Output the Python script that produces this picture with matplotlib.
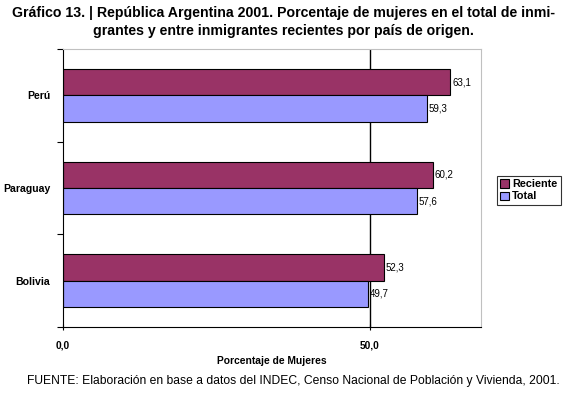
import matplotlib
matplotlib.use("Agg")
import matplotlib.pyplot as plt
import numpy as np

categories = ["Perú", "Paraguay", "Bolivia"]
reciente = [63.1, 60.2, 52.3]
total = [59.3, 57.6, 49.7]
series_names = ["Reciente", "Total"]
xticks = [0, 50]
xtick_labels = ["0,0", "50,0"]

plt.rcParams['font.family'] = ['Liberation Sans', 'DejaVu Sans']

fig = plt.figure(figsize=(5.67, 3.96), dpi=100)
ax = fig.add_axes([63/567, 1-327/396, (481-63)/567, (327-49)/396])

n = len(categories)
pos = np.arange(n)  # 0 top
h = 0.285
c_rec = "#993366"
c_tot = "#9999FF"
b1 = ax.barh(pos - h/2, reciente, height=h, color=c_rec, edgecolor="black", linewidth=0.8, label=series_names[0])
b2 = ax.barh(pos + h/2, total, height=h, color=c_tot, edgecolor="black", linewidth=0.8, label=series_names[1])
ax.set_ylim(n - 0.5, -0.5)
ax.set_xlim(0, 68.1)

for bars, vals in ((b1, reciente), (b2, total)):
    for b, v in zip(bars, vals):
        ax.text(v + 0.3, b.get_y() + b.get_height()/2, f"{v:.1f}".replace(".", ","),
                va="center", ha="left", fontsize=7, family=["Liberation Sans Narrow", "Liberation Sans"])

ax.axvline(50, color="black", linewidth=1, zorder=0)
ax.set_yticks([-0.5, 0.5, 1.5, 2.5])
ax.set_yticklabels([])
ax.set_yticks(pos, minor=True)
ax.set_yticklabels(categories, minor=True, fontsize=7.6, fontweight="bold")
ax.tick_params(axis="y", which="minor", length=0, pad=9)
ax.tick_params(axis="y", which="major", length=4, width=0.8)
ax.set_xticks(xticks)
ax.set_xticklabels(xtick_labels, fontsize=7.4, fontweight="bold")
ax.tick_params(axis="x", length=4, width=0.8, direction="inout", pad=8)
ax.set_xlabel("Porcentaje de Mujeres", fontsize=7.4, fontweight="bold", labelpad=4)

for s in ("top", "right"):
    ax.spines[s].set_color("#c0c0c0")
for s in ("left", "bottom"):
    ax.spines[s].set_color("black")

leg = fig.legend(loc="upper left", bbox_to_anchor=(497/567, 1-176/396),
                 prop={"weight": "bold", "size": 7.8}, frameon=True, fancybox=False,
                 handlelength=0.8, handleheight=0.8, handletextpad=0.3, borderpad=0.3,
                 labelspacing=0.2, borderaxespad=0)
leg.get_frame().set_edgecolor("black")
leg.get_frame().set_linewidth(0.8)

fig.text(0.5, 1-22/396, "Gráfico 13. | República Argentina 2001. Porcentaje de mujeres en el total de inmi-\ngrantes y entre inmigrantes recientes por país de origen.",
         ha="center", va="center", fontsize=10.2, fontweight="bold", linespacing=1.3)
fig.text(293/567, 1-381/396, "FUENTE: Elaboración en base a datos del INDEC, Censo Nacional de Población y Vivienda, 2001.",
         ha="center", va="center", fontsize=8.7)

fig.savefig("out.png", dpi=100)
